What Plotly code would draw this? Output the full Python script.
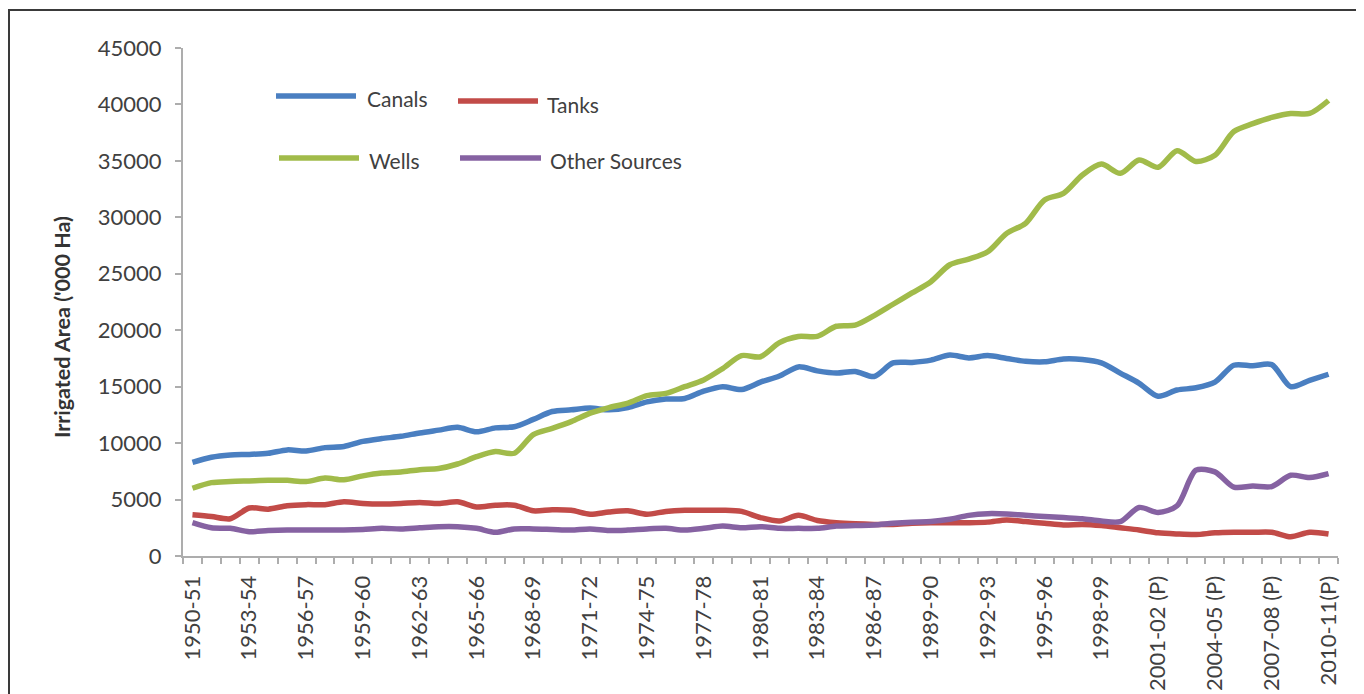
import plotly.graph_objects as go

# ---------------- data ----------------
years = [
    "1950-51", "1951-52", "1952-53", "1953-54", "1954-55", "1955-56", "1956-57", "1957-58",
    "1958-59", "1959-60", "1960-61", "1961-62", "1962-63", "1963-64", "1964-65", "1965-66",
    "1966-67", "1967-68", "1968-69", "1969-70", "1970-71", "1971-72", "1972-73", "1973-74",
    "1974-75", "1975-76", "1976-77", "1977-78", "1978-79", "1979-80", "1980-81", "1981-82",
    "1982-83", "1983-84", "1984-85", "1985-86", "1986-87", "1987-88", "1988-89", "1989-90",
    "1990-91", "1991-92", "1992-93", "1993-94", "1994-95", "1995-96", "1996-97", "1997-98",
    "1998-99", "1999-00", "2000-01 (P)", "2001-02 (P)", "2002-03 (P)", "2003-04 (P)",
    "2004-05 (P)", "2005-06 (P)", "2006-07 (P)", "2007-08 (P)", "2008-09 (P)", "2009-10 (P)",
    "2010-11(P)",
]

canals = [
    8300, 8750, 8950, 9000, 9100, 9400, 9300, 9600, 9700, 10150, 10400,
    10600, 10900, 11150, 11400, 11000, 11350, 11450, 12100, 12800, 12950,
    13100, 12950, 13150, 13650, 13900, 13950, 14600, 15000, 14750, 15400, 15950,
    16750, 16400, 16200, 16350, 15900, 17100, 17150, 17350,
    17800, 17550, 17750, 17500, 17250, 17200, 17450, 17400, 17100, 16200, 15300,
    14150, 14700, 14900, 15400, 16900, 16850, 16950, 15000, 15550, 16100,
]

tanks = [
    3650, 3500, 3300, 4250, 4150, 4450, 4550, 4550, 4800, 4650, 4600,
    4650, 4750, 4650, 4800, 4350, 4500, 4500, 4000, 4100, 4050,
    3700, 3900, 4000, 3700, 3950, 4050, 4050, 4050, 3950, 3400, 3100,
    3600, 3150, 2950, 2850, 2800, 2800, 2900, 2950, 2950, 2950,
    3000, 3200, 3050, 2900, 2750, 2800, 2700, 2500, 2300, 2050, 1950,
    1900, 2050, 2100, 2100, 2100, 1700, 2100, 1950,
]

wells = [
    6000, 6500, 6600, 6650, 6700, 6700, 6600, 6900, 6750, 7100, 7350,
    7450, 7650, 7750, 8150, 8800, 9250, 9100, 10750, 11300, 11900,
    12650, 13150, 13550, 14200, 14400, 15000, 15600, 16600, 17750, 17650, 18900,
    19450, 19450, 20350, 20450, 21300, 22300, 23300, 24300, 25800, 26300,
    26950, 28580, 29470, 31540, 32120, 33750, 34720, 33900, 35080, 34430, 35900,
    34950, 35500, 37600, 38300, 38850, 39200, 39200, 40350,
]

other_sources = [
    2950, 2500, 2450, 2150, 2250, 2300, 2300, 2300, 2300, 2350, 2450,
    2400, 2500, 2600, 2600, 2450, 2100, 2400, 2400, 2350, 2300,
    2400, 2250, 2300, 2400, 2450, 2300, 2450, 2650, 2500, 2600, 2450,
    2450, 2450, 2650, 2700, 2750, 2900, 3000, 3050, 3250, 3600,
    3750, 3720, 3600, 3500, 3400, 3300, 3100, 3050, 4300, 3850, 4450,
    7600, 7450, 6100, 6200, 6150, 7150, 6950, 7300,
]

series_names = ["Canals", "Tanks", "Wells", "Other Sources"]
series_values = [canals, tanks, wells, other_sources]
series_colors = ["#4A7FC1", "#C24B48", "#A1BB4A", "#8662A2"]

y_title = "Irrigated Area ('000 Ha)"
tick_text = [y if i % 3 == 0 else "" for i, y in enumerate(years)]

# ---------------- layout constants (figure pixels; page adds an 8px body margin) ----------------
OFF = 8
W, H = 1364 - OFF, 694 - OFF
PL, PR, PT, PB = 183 - OFF, 1338 - OFF, 48 - OFF, 556 - OFF
FONT = "Lato, 'Open Sans', sans-serif"
TXT = "#404040"
AX = "#ADADAD"


def px(x):
    """page x (as in the reference) -> paper x"""
    return (x - OFF - PL) / (PR - PL)


def py(y):
    """page y (as in the reference) -> paper y"""
    return (PB - (y - OFF)) / (PB - PT)


fig = go.Figure()
for name, vals, color in zip(series_names, series_values, series_colors):
    fig.add_trace(go.Scatter(
        x=years, y=vals, name=name, mode="lines",
        line=dict(color=color, width=5.5, shape="spline", smoothing=0.8),
        showlegend=False,
    ))

# manual legend (two columns, long line samples)
legend_pos = {
    "Canals": (276, 356, 96, 365, 98),
    "Tanks": (458, 538, 101, 545, 104),
    "Wells": (279, 359, 158, 367, 160),
    "Other Sources": (460, 541, 158, 548, 160),
}
shapes = []
annotations = []
for name, color in zip(series_names, series_colors):
    x0, x1, yl, xt, yt = legend_pos[name]
    shapes.append(dict(type="line", xref="paper", yref="paper",
                       x0=px(x0), x1=px(x1), y0=py(yl), y1=py(yl),
                       line=dict(color=color, width=5.5)))
    annotations.append(dict(xref="paper", yref="paper", x=px(xt), y=py(yt),
                            xanchor="left", yanchor="middle", showarrow=False,
                            text=name, font=dict(family=FONT, size=21, color=TXT)))

# y-axis title (placed like the original, below the plot's vertical centre)
annotations.append(dict(xref="paper", yref="paper", x=px(62), y=py(327),
                        xanchor="center", yanchor="middle", showarrow=False,
                        textangle=-90, text="<b>" + y_title + "</b>",
                        font=dict(family=FONT, size=21.5, color="#333333")))

# outer frame
shapes.append(dict(type="rect", xref="paper", yref="paper",
                   x0=px(9), x1=px(1361), y0=py(720), y1=py(10),
                   line=dict(color="#3A3A3A", width=2), fillcolor="rgba(0,0,0,0)",
                   layer="below"))

fig.update_layout(
    width=W, height=H,
    margin=dict(l=PL, r=W - PR, t=PT, b=H - PB, autoexpand=False),
    paper_bgcolor="white", plot_bgcolor="white",
    font=dict(family=FONT, size=21, color=TXT),
    shapes=shapes, annotations=annotations,
    xaxis=dict(
        type="category", categoryorder="array", categoryarray=years,
        tickmode="array", tickvals=years, ticktext=tick_text,
        tickson="boundaries", ticks="outside", ticklen=6, tickwidth=1.5,
        tickcolor=AX, showline=True, linecolor=AX, linewidth=2,
        showgrid=False, zeroline=False, tickangle=-90,
        tickfont=dict(family=FONT, size=22, color=TXT),
        ticklabelstandoff=9, automargin=False,
        range=[-0.5, len(years) - 0.5],
    ),
    yaxis=dict(
        range=[0, 45000], tickmode="linear", tick0=0, dtick=5000, tickformat="d",
        ticks="outside", ticklen=6, tickwidth=1.5, tickcolor=AX,
        showline=True, linecolor=AX, linewidth=2,
        showgrid=False, zeroline=False,
        tickfont=dict(family=FONT, size=22, color=TXT),
        ticklabelstandoff=9, automargin=False,
    ),
)

fig.write_html("out.html")
